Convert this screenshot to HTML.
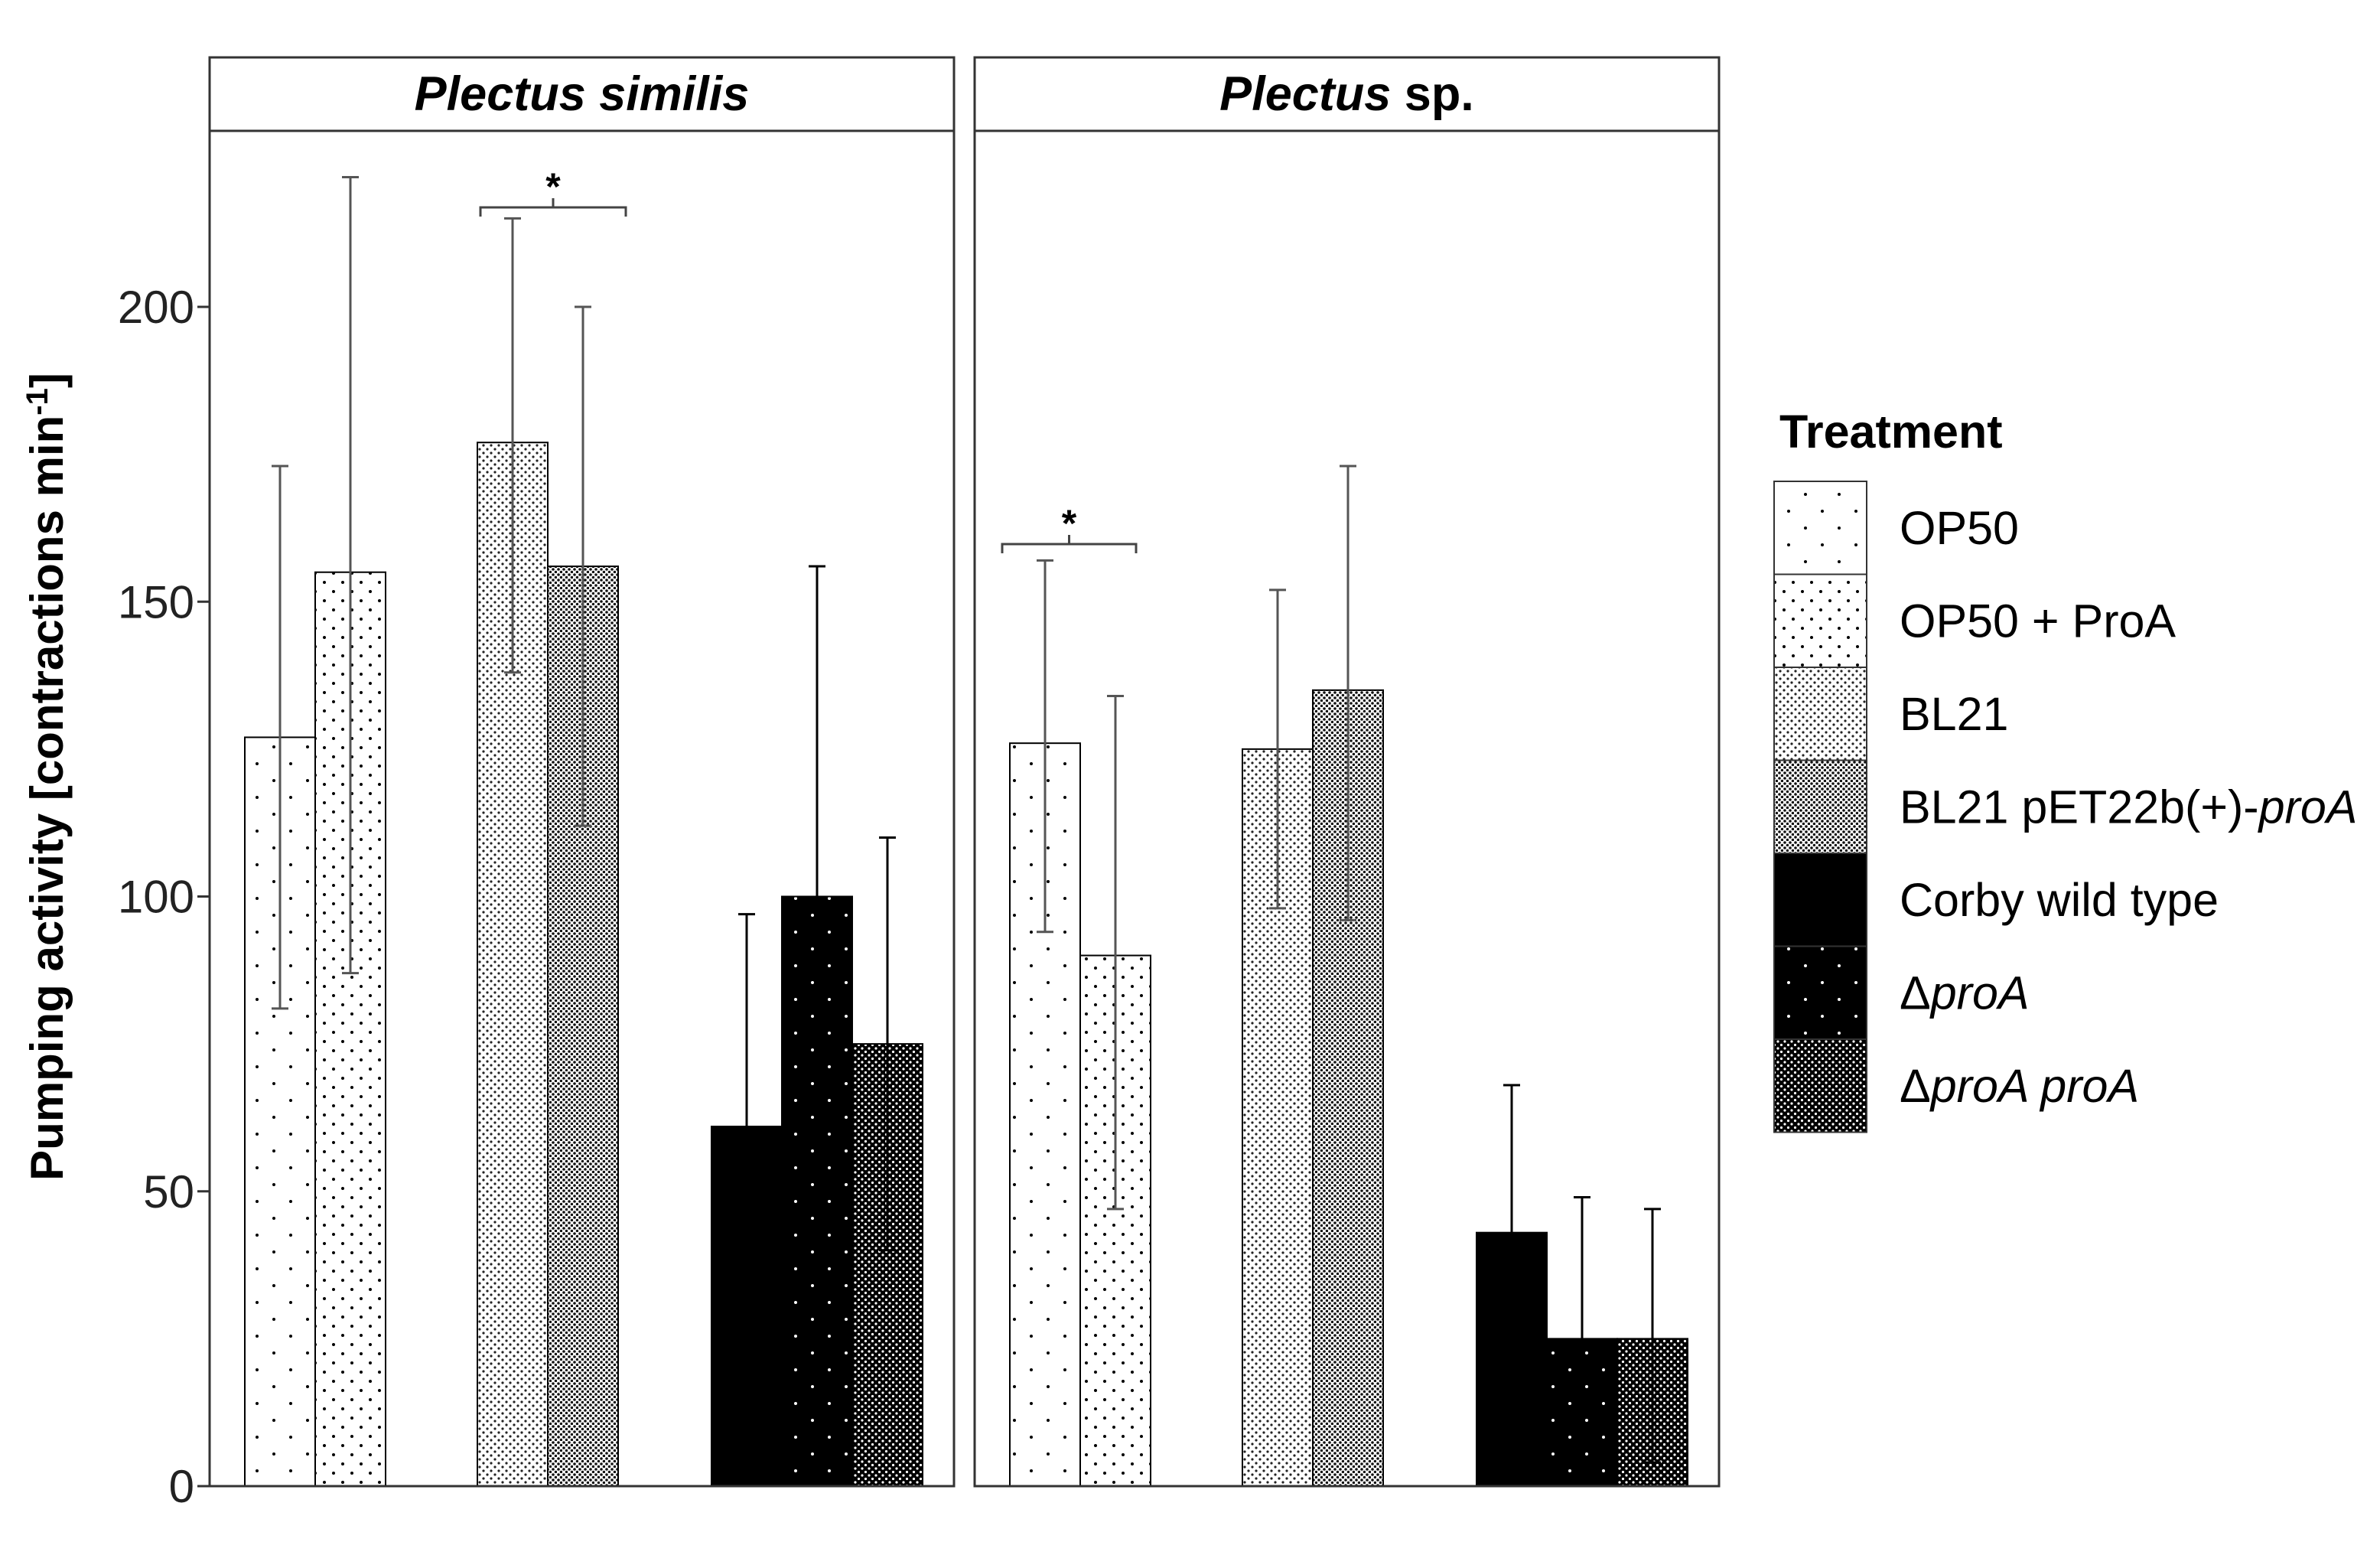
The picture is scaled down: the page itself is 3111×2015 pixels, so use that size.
<!DOCTYPE html>
<html><head><meta charset="utf-8"><style>
html,body{margin:0;padding:0;background:#fff;}
svg{display:block;}
</style></head><body>
<svg id="chart" width="3111" height="2015" viewBox="0 0 3111 2015" xmlns="http://www.w3.org/2000/svg">
<defs>
<pattern id="p0" width="44" height="44" patternUnits="userSpaceOnUse"><rect width="44" height="44" fill="#fff"/><circle cx="6" cy="8" r="2" fill="#000"/><circle cx="28" cy="30" r="2" fill="#000"/></pattern>
<pattern id="p1" width="24" height="24" patternUnits="userSpaceOnUse"><rect width="24" height="24" fill="#fff"/><circle cx="4" cy="5" r="2" fill="#000"/><circle cx="16" cy="17" r="2" fill="#000"/></pattern>
<pattern id="p2" width="10" height="10" patternUnits="userSpaceOnUse"><rect width="10" height="10" fill="#fff"/><circle cx="2" cy="2" r="1.6" fill="#222"/><circle cx="7" cy="7" r="1.6" fill="#222"/></pattern>
<pattern id="p3" width="7" height="7" patternUnits="userSpaceOnUse"><rect width="7" height="7" fill="#fff"/><circle cx="2" cy="2" r="1.8" fill="#111"/><circle cx="5.5" cy="5.5" r="1.8" fill="#111"/></pattern>
<pattern id="p4" width="10" height="10" patternUnits="userSpaceOnUse"><rect width="10" height="10" fill="#000"/></pattern>
<pattern id="p5" width="44" height="44" patternUnits="userSpaceOnUse"><rect width="44" height="44" fill="#000"/><circle cx="6" cy="8" r="2" fill="#fff"/><circle cx="28" cy="30" r="2" fill="#fff"/></pattern>
<pattern id="p6" width="9" height="9" patternUnits="userSpaceOnUse"><rect width="9" height="9" fill="#000"/><circle cx="2" cy="2" r="1.6" fill="#fff"/><circle cx="6.5" cy="6.5" r="1.6" fill="#fff"/></pattern>
</defs>
<g id="plot"></g>
</svg>
<script>
const treatments = ["OP50","OP50 + ProA","BL21","BL21 pET22b(+)-proA","Corby wild type","ΔproA","ΔproA proA"];
const panels = ["Plectus similis","Plectus sp."];
const meansSimilis = [127,155,177,156,61,100,75];
const lowSimilis   = [81,87,138,112,25,44,40];
const highSimilis  = [173,222,215,200,97,156,110];
const meansSp = [126,90,125,135,43,25,25];
const lowSp   = [94,47,98,96,18,2,4];
const highSp  = [157,134,152,173,68,49,47];
const yTicks = [0,50,100,150,200];

const NS="http://www.w3.org/2000/svg";
const g=document.getElementById('plot');
function el(t,a,p){const e=document.createElementNS(NS,t);for(const k in a)e.setAttribute(k,a[k]);(p||g).appendChild(e);return e;}
const Y0=1942, PX=7.705;
const y=v=>Y0-v*PX;
const panelX=[274,1274], panelW=973;
const groupOf=[0,0,1,1,2,2,2];
const groupLeft=[46,350,656];
const groupStart=[0,0,2,2,4,4,4];
const barW=92;
function barX(i){return groupLeft[groupOf[i]]+(i-groupStart[i])*barW;}
const data=[[meansSimilis,lowSimilis,highSimilis],[meansSp,lowSp,highSp]];

panels.forEach((pn,pi)=>{
 const px=panelX[pi];
 const bg=el('rect',{x:px,y:171,width:panelW,height:Y0-171,fill:'#fff'});
 
 
 const [m,lo,hi]=data[pi];
 m.forEach((v,i)=>{
  const bx=px+barX(i);
  const r=el('rect',{x:bx,y:y(v),width:barW,height:v*PX,fill:'url(#p'+i+')',stroke:'#000','stroke-width':2});
  
  
  const cx=bx+barW/2;
  const eb=el('path',{d:`M${cx} ${y(lo[i])}V${y(hi[i])}M${cx-11} ${y(hi[i])}H${cx+11}M${cx-11} ${y(lo[i])}H${cx+11}`,stroke:i>=4?'#000':'#555','stroke-width':3,fill:'none'});
  
  
 });
 const fr=el('rect',{x:px,y:171,width:panelW,height:Y0-171,fill:'none',stroke:'#333','stroke-width':3});
 
 
 const st=el('rect',{x:px,y:75,width:panelW,height:96,fill:'#fff',stroke:'#333','stroke-width':3});
 
 
 const tt=el('text',{x:px+panelW/2,y:144,'text-anchor':'middle','font-family':'Liberation Sans, sans-serif','font-size':63,'font-weight':'bold','font-style':'italic'});
 
 
 if(pi===0){tt.textContent=pn;}else{const a=el('tspan',{},tt);a.textContent='Plectus';const b=el('tspan',{'font-style':'normal'},tt);b.textContent=' sp.';}
});
function bracket(x1,x2,yy,name){
 const b=el('path',{d:`M${x1} ${yy+12}V${yy}H${x2}V${yy+12}M${(x1+x2)/2} ${yy}V${yy-12}`,stroke:'#444','stroke-width':3,fill:'none'});
 
 
 const s=el('text',{x:(x1+x2)/2,y:yy-10,'text-anchor':'middle','font-family':'Liberation Sans, sans-serif','font-size':50,'font-weight':'bold'});
 
 
 s.textContent='*';
}
bracket(628,818,271,'significance-bracket-1');
bracket(1310,1485,711,'significance-bracket-2');
yTicks.forEach(t=>{
 const tk=el('line',{x1:258,x2:274,y1:y(t),y2:y(t),stroke:'#333','stroke-width':3});
 
 
 const lb=el('text',{x:254,y:y(t)+21,'text-anchor':'end','font-family':'Liberation Sans, sans-serif','font-size':60,fill:'#222'});
 
 
 lb.textContent=t;
});
const yt=el('text',{transform:'translate(82,1015) rotate(-90)','text-anchor':'middle','font-family':'Liberation Sans Narrow, Liberation Sans, sans-serif','font-size':60,'font-weight':'bold'});


yt.appendChild(document.createTextNode('Pumping activity [contractions min'));
const sup=el('tspan',{dy:-20,'font-size':40},yt);sup.textContent='-1';
const cl=el('tspan',{dy:20},yt);cl.textContent=']';
const lt=el('text',{x:2326,y:585,'font-family':'Liberation Sans, sans-serif','font-size':61,'font-weight':'bold'});


lt.textContent='Treatment';
const labelsHTML=[[['OP50',0]],[['OP50 + ProA',0]],[['BL21',0]],[['BL21 pET22b(+)-',0],['proA',1]],[['Corby wild type',0]],[['Δ',0],['proA',1]],[['Δ',0],['proA proA',1]]];
treatments.forEach((t,i)=>{
 const ty=629+i*121.5;
 const k=el('rect',{x:2319,y:ty,width:121,height:121.5,fill:'url(#p'+i+')',stroke:'#333','stroke-width':2});
 
 
 const tx=el('text',{x:2483,y:ty+82,'font-family':'Liberation Sans, sans-serif','font-size':61});
 
 
 labelsHTML[i].forEach(([s,it])=>{const sp=el('tspan',it?{'font-style':'italic'}:{},tx);sp.textContent=s;});
});
</script>
</body></html>
